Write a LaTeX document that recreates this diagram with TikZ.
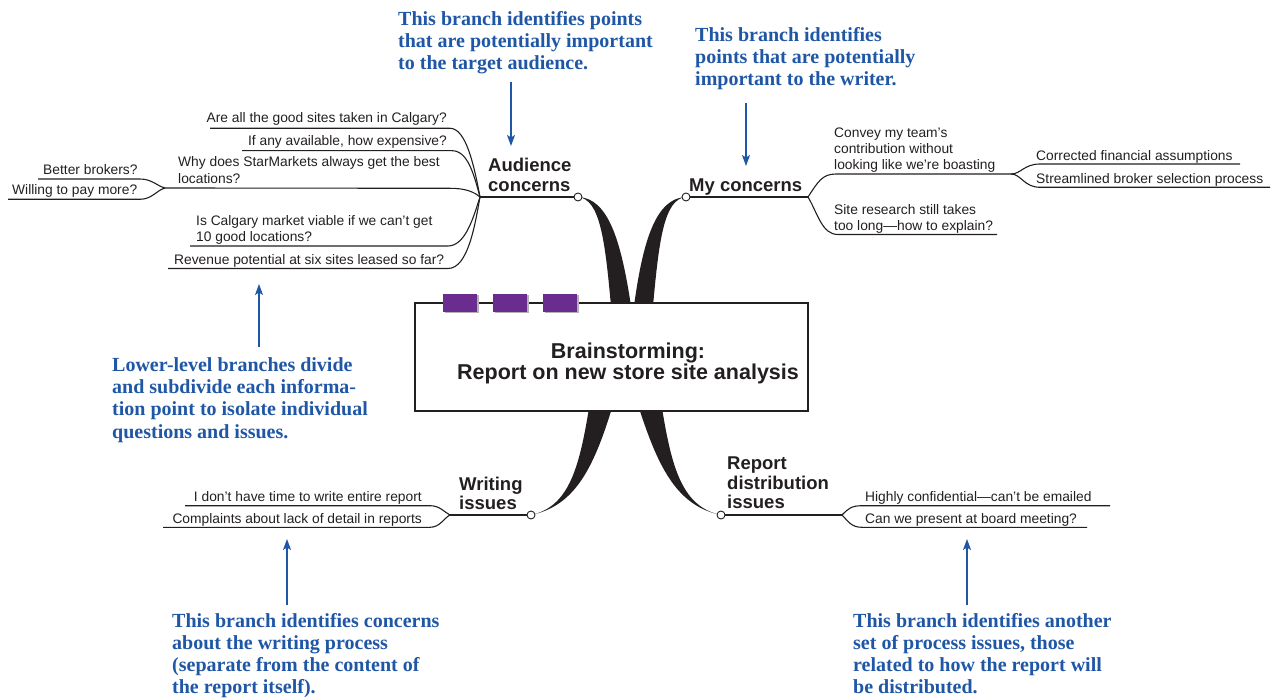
\documentclass[tikz,border=0pt]{standalone}
\usepackage{fontspec}
\setmainfont{Liberation Sans}
\newfontfamily\notefont{Liberation Serif}
\usetikzlibrary{arrows.meta,calc}
\definecolor{ink}{RGB}{35,31,32}
\definecolor{noteblue}{RGB}{31,87,166}
\definecolor{tabpurple}{RGB}{106,44,143}

\begin{document}
\begin{tikzpicture}[x=1pt,y=-1pt,
  txt/.style={inner sep=0pt, font=\fontsize{13.8}{16}\selectfont, text=ink},
  head/.style={inner sep=0pt, font=\fontsize{18.5}{20}\selectfont\bfseries, text=ink},
  ttl/.style={inner sep=0pt, font=\fontsize{21.5}{21}\selectfont\bfseries, text=ink},
  note/.style={inner sep=0pt, font=\notefont\fontsize{20}{22}\selectfont\bfseries, text=noteblue},
  branch/.style={draw=ink, line width=1.1pt},
  knot/.style={circle, draw=ink, fill=white, line width=0.9pt, minimum size=8pt, inner sep=0pt},
  pointer/.style={draw=noteblue, line width=1.2pt, -{Stealth[length=11pt,width=8pt,inset=2.5pt]}},
  tab/.style={fill=tabpurple, minimum width=34pt, minimum height=18pt, inner sep=0pt},
]
\useasboundingbox (0,0) rectangle (1277,700);

% ---------- tapered main stems (drawn under the central box) ----------
\fill[ink] (611,306) .. controls (605,240) and (600,199) .. (578,197)
           .. controls (608,198) and (621,240) .. (631,306) -- cycle;
\fill[ink] (653,306) .. controls (659,240) and (664,199) .. (686,197)
           .. controls (656,198) and (643,240) .. (634,306) -- cycle;
\fill[ink] (589,408) .. controls (579,470) and (568,507) .. (531,515)
           .. controls (574,506) and (593,470) .. (612,408) -- cycle;
\fill[ink] (662,408) .. controls (672,470) and (683,507) .. (721,515)
           .. controls (678,506) and (659,470) .. (639,408) -- cycle;

% ---------- central topic ----------
\node[draw=ink, fill=white, line width=1.2pt, minimum width=393pt,
      minimum height=108pt, inner sep=0pt] (core) at (611.5,357) {};
\foreach \i/\x in {1/460,2/510,3/560}{
  \fill[black!30] (\x-15.5,295.5) rectangle ++(34,18);
  \node[tab] (tab\i) at (\x,303) {};
}
\node[ttl, anchor=base] (title1) at (628,359) {Brainstorming:};
\node[ttl, anchor=base] (title2) at (628,380) {Report on new store site analysis};

% ---------- branch knots and junctions ----------
\coordinate (jA) at (480,197);
\coordinate (jM) at (808,197);
\coordinate (jW) at (450,515);
\coordinate (jR) at (842,515);
\coordinate (jS) at (165,188);
\coordinate (jC) at (1011,174);

\draw[branch] (jA) -- (578,197);
\draw[branch] (686,197) -- (jM);
\draw[branch] (jW) -- (531,515);
\draw[branch] (721,515) -- (jR);

\node[knot] (kA) at (578,197) {};
\node[knot] (kM) at (686,197) {};
\node[knot] (kW) at (531,515) {};
\node[knot] (kR) at (721,515) {};

% ---------- Audience concerns ----------
\node[head, anchor=base west] (hA1) at (488,172) {Audience};
\node[head, anchor=base west] (hA2) at (488,192) {concerns};

\coordinate (a1) at (210,128.3);
\coordinate (a2) at (242,150.7);
\coordinate (a3) at (450,188.3);
\coordinate (a4) at (190,246);
\coordinate (a5) at (168,268.5);
\draw[branch] (a1) -- (450,128.3) .. controls (466,128.3) and (474,165) .. (jA);
\draw[branch] (a2) -- (452,150.7) .. controls (468,150.7) and (474,175) .. (jA);
\draw[branch] (jS) -- (a3) .. controls (466,188.3) and (474,192) .. (jA);
\draw[branch] (a4) -- (448,246) .. controls (466,246) and (474,215) .. (jA);
\draw[branch] (a5) -- (448,268.5) .. controls (468,268.5) and (475,225) .. (jA);

\node[txt, anchor=base east] (qA1) at (447,123) {Are all the good sites taken in Calgary?};
\node[txt, anchor=base east] (qA2) at (447,145.5) {If any available, how expensive?};
\node[txt, anchor=base west] (qA3a) at (178,167) {Why does StarMarkets always get the best};
\node[txt, anchor=base west] (qA3b) at (178,183.3) {locations?};
\node[txt, anchor=base west] (qA4a) at (196,226) {Is Calgary market viable if we can’t get};
\node[txt, anchor=base west] (qA4b) at (196,242) {10 good locations?};
\node[txt, anchor=base west] (qA5) at (174,264.5) {Revenue potential at six sites leased so far?};

% second level under StarMarkets
\coordinate (s1) at (38,179);
\coordinate (s2) at (8,199.3);
\draw[branch] (s1) -- (140,179) .. controls (152,179) and (157,186) .. (jS);
\draw[branch] (s2) -- (140,199.3) .. controls (152,199.3) and (157,190) .. (jS);
\node[txt, anchor=base west] (qS1) at (43,174.5) {Better brokers?};
\node[txt, anchor=base west] (qS2) at (12,195) {Willing to pay more?};

% ---------- My concerns ----------
\node[head, anchor=base west] (hM) at (689,192) {My concerns};

\coordinate (m2) at (997,234.5);
\draw[branch] (jM) .. controls (818,182) and (822,174) .. (836,174) -- (jC);
\draw[branch] (jM) .. controls (818,214) and (822,234.5) .. (838,234.5) -- (m2);
\node[txt, anchor=base west] (qM1a) at (834,138) {Convey my team’s};
\node[txt, anchor=base west] (qM1b) at (834,154) {contribution without};
\node[txt, anchor=base west] (qM1c) at (834,170) {looking like we’re boasting};
\node[txt, anchor=base west] (qM2a) at (834,214.5) {Site research still takes};
\node[txt, anchor=base west] (qM2b) at (834,230.5) {too long—how to explain?};

\coordinate (c1) at (1240,164);
\coordinate (c2) at (1270,187.3);
\draw[branch] (jC) .. controls (1021,174) and (1024,164) .. (1040,164) -- (c1);
\draw[branch] (jC) .. controls (1021,174) and (1024,187.3) .. (1040,187.3) -- (c2);
\node[txt, anchor=base west] (qC1) at (1036,160.5) {Corrected financial assumptions};
\node[txt, anchor=base west] (qC2) at (1036,183.5) {Streamlined broker selection process};

% ---------- Writing issues ----------
\node[head, anchor=base west] (hW1) at (459,490) {Writing};
\node[head, anchor=base west] (hW2) at (459,509) {issues};

\coordinate (w1) at (185,505.7);
\coordinate (w2) at (163,527.3);
\draw[branch] (w1) -- (430,505.7) .. controls (440,505.7) and (444,512) .. (jW);
\draw[branch] (w2) -- (430,527.3) .. controls (440,527.3) and (444,518) .. (jW);
\node[txt, anchor=base east] (qW1) at (422,501.5) {I don’t have time to write entire report};
\node[txt, anchor=base east] (qW2) at (422,523) {Complaints about lack of detail in reports};

% ---------- Report distribution issues ----------
\node[head, anchor=base west] (hR1) at (727,469) {Report};
\node[head, anchor=base west] (hR2) at (727,489) {distribution};
\node[head, anchor=base west] (hR3) at (727,508) {issues};

\coordinate (r1) at (1110,505.7);
\coordinate (r2) at (1087,527.3);
\draw[branch] (jR) .. controls (848,509) and (851,505.7) .. (862,505.7) -- (r1);
\draw[branch] (jR) .. controls (848,521) and (851,527.3) .. (862,527.3) -- (r2);
\node[txt, anchor=base west] (qR1) at (865,501) {Highly confidential—can’t be emailed};
\node[txt, anchor=base west] (qR2) at (865,523) {Can we present at board meeting?};

% ---------- explanatory notes ----------
\node[note, anchor=base west] (nA1) at (398,26) {This branch identifies points};
\node[note, anchor=base west] (nA2) at (398,48) {that are potentially important};
\node[note, anchor=base west] (nA3) at (398,70) {to the target audience.};
\coordinate (pA) at (511,82);
\coordinate (pA') at (511,146);
\draw[pointer] (pA) -- (pA');

\node[note, anchor=base west] (nM1) at (695,42) {This branch identifies};
\node[note, anchor=base west] (nM2) at (695,64) {points that are potentially};
\node[note, anchor=base west] (nM3) at (695,86) {important to the writer.};
\coordinate (pM) at (746,103);
\coordinate (pM') at (746,166);
\draw[pointer] (pM) -- (pM');

\node[note, anchor=base west] (nL1) at (112,372) {Lower-level branches divide};
\node[note, anchor=base west] (nL2) at (112,394) {and subdivide each informa-};
\node[note, anchor=base west] (nL3) at (112,416) {tion point to isolate individual};
\node[note, anchor=base west] (nL4) at (112,438) {questions and issues.};
\coordinate (pL) at (259,347);
\coordinate (pL') at (259,284);
\draw[pointer] (pL) -- (pL');

\node[note, anchor=base west] (nW1) at (172,627) {This branch identifies concerns};
\node[note, anchor=base west] (nW2) at (172,649) {about the writing process};
\node[note, anchor=base west] (nW3) at (172,671) {(separate from the content of};
\node[note, anchor=base west] (nW4) at (172,693) {the report itself).};
\coordinate (pW) at (287,605);
\coordinate (pW') at (287,539);
\draw[pointer] (pW) -- (pW');

\node[note, anchor=base west] (nR1) at (853,627) {This branch identifies another};
\node[note, anchor=base west] (nR2) at (853,649) {set of process issues, those};
\node[note, anchor=base west] (nR3) at (853,671) {related to how the report will};
\node[note, anchor=base west] (nR4) at (853,693) {be distributed.};
\coordinate (pR) at (967,605);
\coordinate (pR') at (967,539);
\draw[pointer] (pR) -- (pR');
\end{tikzpicture}
\end{document}
